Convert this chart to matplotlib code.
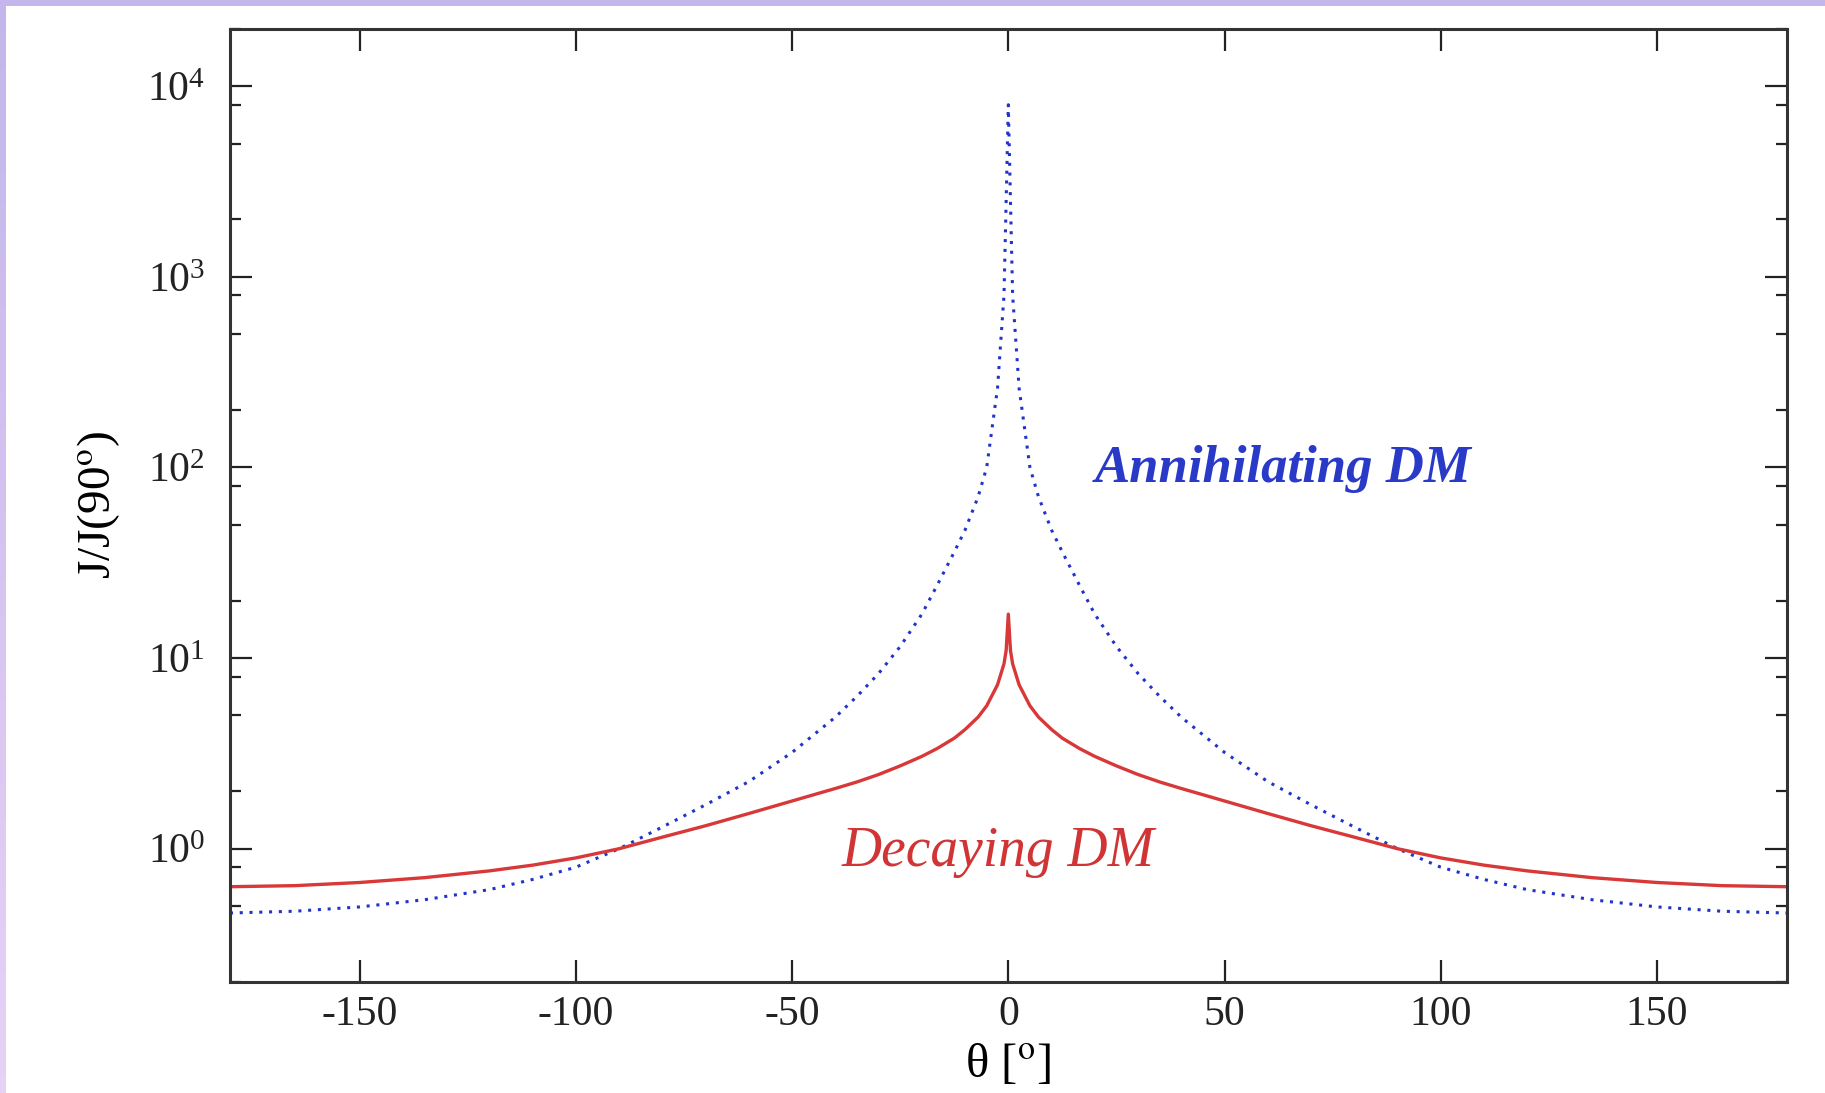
#!/usr/bin/python

import numpy as np
import matplotlib
matplotlib.use("Agg")
import matplotlib.pyplot as plt
from matplotlib.patches import Rectangle
from matplotlib.colors import LinearSegmentedColormap
from matplotlib.ticker import LogLocator, NullFormatter

plt.rcParams["font.family"] = ["Liberation Serif", "DejaVu Serif"]
plt.rcParams["mathtext.fontset"] = "stix"

# angle from galactic centre, degrees
theta = [-180, -165, -150, -135, -120, -110, -100, -90, -80, -70, -60, -50,
         -40, -35, -30, -25, -20, -16.5, -12.5, -10, -7, -5, -2.5, -1, -0.5,
         0,
         0.5, 1, 2.5, 5, 7, 10, 12.5, 16.5, 20, 25, 30, 35, 40, 50, 60, 70,
         80, 90, 100, 110, 120, 135, 150, 165, 180]

# J/J(90 deg), decaying DM (solid red)
decay = [0.632, 0.64, 0.665, 0.705, 0.765, 0.82, 0.895, 1.0, 1.15, 1.32,
         1.53, 1.78, 2.07, 2.24, 2.45, 2.72, 3.05, 3.35, 3.8, 4.22, 4.9, 5.62,
         7.24, 9.33, 10.96,
         17.0,
         10.96, 9.33, 7.24, 5.62, 4.9, 4.22, 3.8, 3.35, 3.05, 2.72, 2.45, 2.24,
         2.07, 1.78, 1.53, 1.32, 1.15, 1.0, 0.895, 0.82, 0.765, 0.705, 0.665,
         0.64, 0.632]

# J/J(90 deg), annihilating DM (dotted blue)
annih = [0.46, 0.47, 0.495, 0.54, 0.61, 0.69, 0.80, 1.0, 1.3, 1.7, 2.25, 3.2,
         4.9, 6.3, 8.3, 11.5, 17.0, 24.0, 36.0, 47.0, 70.0, 100.0, 260.0,
         800.0, 2500.0,
         8000.0,
         2500.0, 800.0, 260.0, 100.0, 70.0, 47.0, 36.0, 24.0, 17.0, 11.5, 8.3,
         6.3, 4.9, 3.2, 2.25, 1.7, 1.3, 1.0, 0.80, 0.69, 0.61, 0.54, 0.495,
         0.47, 0.46]

xticks = [-150, -100, -50, 0, 50, 100, 150]


def main():
  fig = plt.figure(figsize=(18.25, 10.93), dpi=100)
  fig.patch.set_facecolor("#c9bdf0")

  # slide background: lavender gradient strip on top and left, white page
  bg = fig.add_axes([0, 0, 1, 1], zorder=-5)
  bg.set_axis_off()
  cmap = LinearSegmentedColormap.from_list("slide", ["#c4b6ec", "#e6d2f6"])
  bg.imshow(np.linspace(0, 1, 64).reshape(-1, 1), cmap=cmap, aspect="auto",
            extent=[0, 1, 0, 1], transform=bg.transAxes)
  bg.add_patch(Rectangle((6/1825, 0), 1, 1 - 6/1093,
                         transform=bg.transAxes,
                         facecolor="white", edgecolor="none"))

  ax = fig.add_axes([0.126, 0.1016, 0.853, 0.872])
  ax.set_yscale("log")
  ax.set_xlim(-180, 180)
  ax.set_ylim(0.2, 2.0e4)

  ax.plot(theta, annih, color="#2233cc", lw=2.2, ls=(0, (1, 2.2)))
  ax.plot(theta, decay, color="#d83838", lw=2.4)

  ax.set_xticks(xticks)
  ax.set_xticklabels([str(t) for t in xticks])
  ax.yaxis.set_major_locator(LogLocator(base=10, numticks=10))
  ax.yaxis.set_minor_locator(LogLocator(base=10, subs=(2.0, 5.0, 8.0),
                                        numticks=10))
  ax.yaxis.set_minor_formatter(NullFormatter())

  ax.tick_params(which="both", direction="in", top=True, right=True,
                 labelsize=30, colors="#222222", width=1.6)
  ax.tick_params(which="major", length=16)
  ax.tick_params(axis="x", which="major", pad=10)
  ax.tick_params(axis="y", which="major", pad=18)
  ax.tick_params(which="minor", length=8)
  for s in ax.spines.values():
    s.set_linewidth(2.2)
    s.set_color("#333333")

  ax.set_xlabel(r"θ [$^{\rm o}$]", fontsize=35, labelpad=6)
  ax.set_ylabel(r"J/J(90$^{\rm o}$)", fontsize=34, labelpad=18)

  ax.text(20, 98, "Annihilating DM", color="#2a3ac8", fontsize=38,
          style="italic", weight="bold", ha="left", va="center")
  ax.text(-38.5, 0.96, "Decaying DM", color="#d03434", fontsize=40,
          style="italic", ha="left", va="center")

  fig.savefig("out.png", dpi=100, facecolor=fig.get_facecolor())


if __name__ == "__main__":
  main()
